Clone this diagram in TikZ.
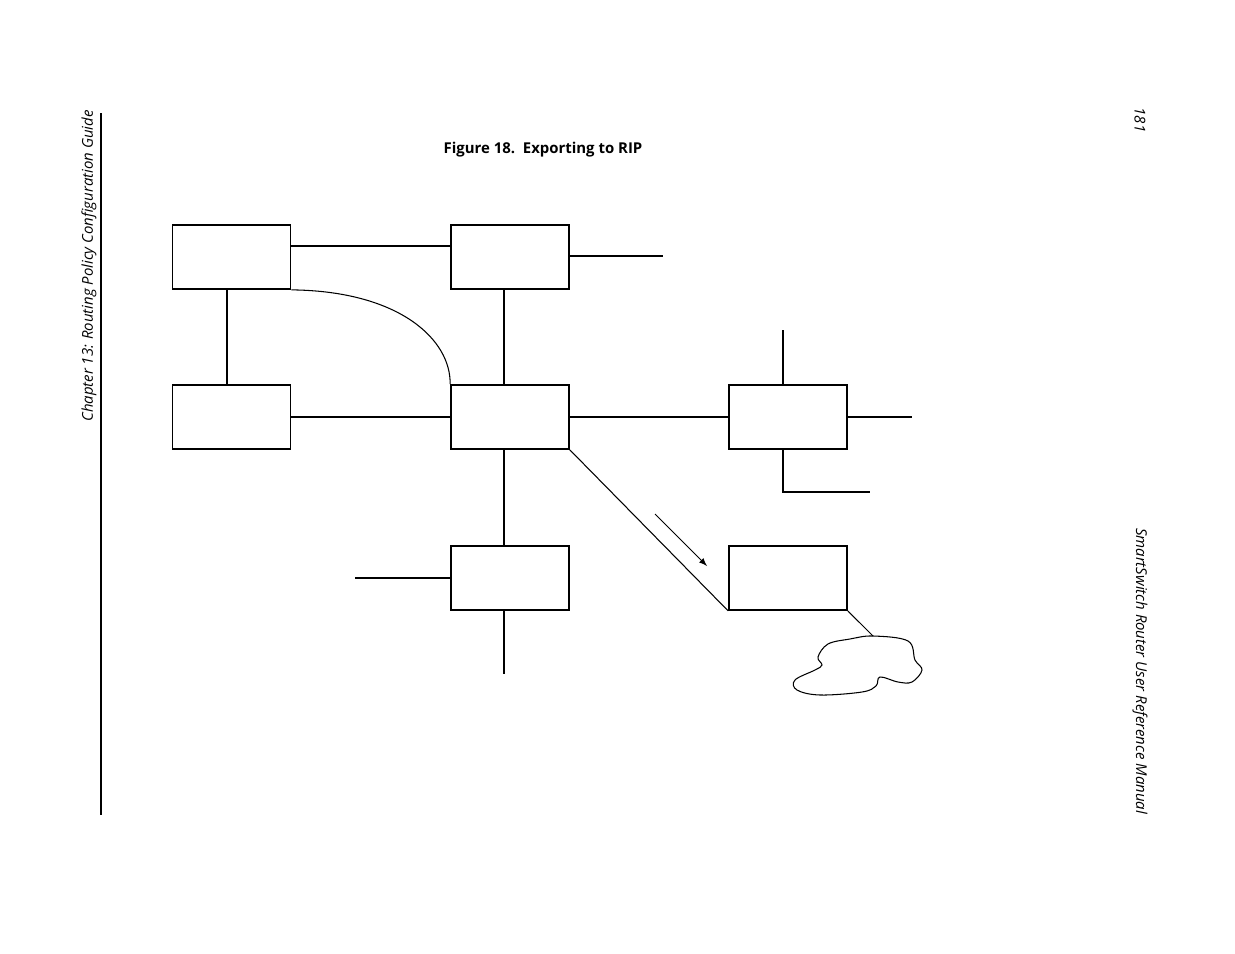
\documentclass[tikz,border=0pt]{standalone}
\usepackage{fontspec}
\setmainfont{Open Sans}
\begin{document}
\begin{tikzpicture}[x=0.02cm,y=-0.02cm,
  router/.style={draw, line width=1pt, minimum width=2.36cm, minimum height=1.28cm, inner sep=0pt},
  every path/.style={line width=0.6pt}]
\useasboundingbox (0,0) rectangle (1235,954);

%Nodes
\node (ra) at (231.5,257) [router]{};
\node (rb) at (510,257) [router]{};
\node (rc) at (231.5,417) [router]{};
\node (rd) at (510,417) [router]{};
\node (re) at (788,417) [router]{};
\node (rf) at (510,578) [router]{};
\node (rg) at (788,578) [router]{};

%Free ends
\coordinate (bout) at (663,256);
\coordinate (etop) at (783,330);
\coordinate (eout) at (912,417);
\coordinate (ecorner) at (783,492);
\coordinate (eend) at (870,492);
\coordinate (fin) at (355,578);
\coordinate (fout) at (504,674);
\coordinate (arrs) at (655,514);
\coordinate (arre) at (707,566);
\coordinate (cloudtop) at (873,636);

%Links
\draw (ra.east |- 0,246) -- (rb.west |- 0,246);
\draw (rb.east |- bout) -- (bout);
\draw (227,289) -- (227,385);
\draw (504,289) -- (504,385);
\draw (ra.south east) .. controls (400,291) and (451,340) .. (rd.north west);
\draw (rc) -- (rd);
\draw (rd) -- (re);
\draw (etop) -- (etop |- re.north);
\draw (re.east) -- (eout);
\draw (ecorner |- re.south) -- (ecorner) -- (eend);
\draw (504,449) -- (504,546);
\draw (fin) -- (rf.west |- fin);
\draw (504,610) -- (fout);
\draw (rd.south east) -- (rg.south west);
\draw[-latex] (arrs) -- (arre);
\draw (rg.south east) -- (cloudtop);

%Cloud
\draw plot[smooth cycle, tension=0.6] coordinates {(873,636) (908,641) (915,660) (922,670) (912,682) (898,682) (880,677) (876,686) (862,692) (820,695) (797,690) (795,680) (815,670) (822,665) (818,657) (828,644) (850,639)};

%Texts
\node[font=\bfseries\fontsize{8.5}{10}\selectfont] (title) at (543,150) {Figure 18.\ \ Exporting to RIP};
\draw (101,113) -- (101,815);
\node[rotate=90, font=\itshape\fontsize{8.5}{10}\selectfont] (chap) at (89,266) {Chapter 13: Routing Policy Configuration Guide};
\node[rotate=-90, font=\itshape\fontsize{8.5}{10}\selectfont] (page) at (1140,120) {181};
\node[rotate=-90, font=\itshape\fontsize{8.5}{10}\selectfont] (manual) at (1140,671) {SmartSwitch Router User Reference Manual};
\end{tikzpicture}
\end{document}
